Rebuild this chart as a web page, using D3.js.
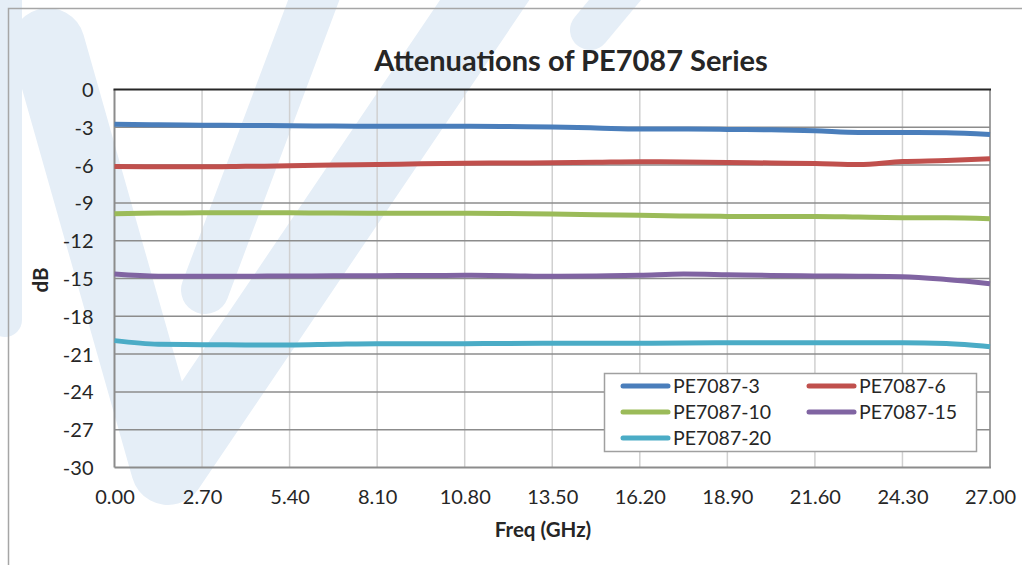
<!DOCTYPE html>
<html><head><meta charset="utf-8">
<script src="https://cdn.jsdelivr.net/npm/d3@7"></script>
<style>
html,body{margin:0;padding:0;background:#fff;}
svg{display:block;}
text{font-family:Lato,"Open Sans",sans-serif;fill:#262626;}
</style></head>
<body>
<svg id="chart" width="1022" height="565"></svg>
<script>
const freq = [0,1.35,2.7,4.05,5.4,6.75,8.1,9.45,10.8,12.15,13.5,14.85,16.2,17.55,18.9,20.25,21.6,22.95,24.3,25.65,27];
const seriesNames = ["PE7087-3","PE7087-6","PE7087-10","PE7087-15","PE7087-20"];
const pe3  = [-2.75,-2.80,-2.83,-2.85,-2.88,-2.90,-2.91,-2.91,-2.91,-2.94,-2.97,-3.05,-3.14,-3.14,-3.17,-3.20,-3.28,-3.41,-3.41,-3.43,-3.57];
const pe6  = [-6.12,-6.14,-6.14,-6.10,-6.06,-6.00,-5.95,-5.90,-5.85,-5.83,-5.82,-5.78,-5.74,-5.75,-5.79,-5.83,-5.87,-5.96,-5.72,-5.64,-5.50];
const pe10 = [-9.86,-9.80,-9.79,-9.79,-9.79,-9.80,-9.82,-9.82,-9.82,-9.85,-9.88,-9.94,-9.99,-10.04,-10.07,-10.07,-10.07,-10.12,-10.17,-10.18,-10.26];
const pe15 = [-14.65,-14.82,-14.83,-14.82,-14.80,-14.79,-14.78,-14.76,-14.75,-14.78,-14.83,-14.80,-14.75,-14.65,-14.70,-14.76,-14.80,-14.82,-14.86,-15.08,-15.41];
const pe20 = [-19.93,-20.22,-20.25,-20.27,-20.28,-20.22,-20.17,-20.17,-20.17,-20.16,-20.14,-20.14,-20.14,-20.12,-20.10,-20.10,-20.10,-20.10,-20.10,-20.15,-20.41];
const seriesValues = [pe3,pe6,pe10,pe15,pe20];
const colors = ["#4a7ebb","#c0504d","#9bbb59","#8064a2","#4bacc6"];
const xTicks = [0,2.7,5.4,8.1,10.8,13.5,16.2,18.9,21.6,24.3,27];
const yTicks = [0,-3,-6,-9,-12,-15,-18,-21,-24,-27,-30];
const title = "Attenuations of PE7087 Series";
const xTitle = "Freq (GHz)";
const yTitle = "dB";

const svg = d3.select("#chart");
const L = 114.5, R = 990, T = 89.5, B = 467.5;

// faint logo watermark
const wm = svg.append("g").attr("fill","none").attr("stroke","#e5eef7").attr("stroke-linejoin","round").attr("stroke-linecap","round");
wm.append("path").attr("d","M48,45 L168,468 L505,-30").attr("stroke-width",74);
wm.append("path").attr("d","M325,-30 L205,290").attr("stroke-width",48);
wm.append("path").attr("d","M5,-20 L5,320").attr("stroke-width",34);
wm.append("path").attr("d","M640,-30 L590,30").attr("stroke-width",40);

// outer border
svg.append("rect").attr("x",8.5).attr("y",8.5).attr("width",1100).attr("height",1000)
  .attr("fill","none").attr("stroke","#a6a6a6").attr("stroke-width",1.5);

const x = d3.scaleLinear().domain([0,27]).range([L,R]);
const y = d3.scaleLinear().domain([-30,0]).range([B,T]);

// grid
const g = svg.append("g");
g.selectAll("line.vg").data(xTicks.slice(1)).join("line").attr("class","vg")
  .attr("x1",d=>x(d)).attr("x2",d=>x(d)).attr("y1",T).attr("y2",B)
  .attr("stroke","#d0d0d0").attr("stroke-width",1.5);
g.selectAll("line.hg").data(yTicks.slice(1,-1)).join("line").attr("class","hg")
  .attr("x1",L).attr("x2",R).attr("y1",d=>y(d)).attr("y2",d=>y(d))
  .attr("stroke","#8c8c8c").attr("stroke-width",1.5);
g.append("line").attr("x1",R).attr("x2",R).attr("y1",T).attr("y2",B).attr("stroke","#8c8c8c").attr("stroke-width",1.5);
g.append("line").attr("x1",L).attr("x2",L).attr("y1",T).attr("y2",B).attr("stroke","#8c8c8c").attr("stroke-width",2);
g.append("line").attr("x1",L).attr("x2",R+1).attr("y1",B).attr("y2",B).attr("stroke","#8c8c8c").attr("stroke-width",2);
g.append("line").attr("x1",L-1).attr("x2",R+1).attr("y1",T).attr("y2",T).attr("stroke","#262626").attr("stroke-width",2);

// tick labels via d3 axes
const yAxis = d3.axisLeft(y).tickValues(yTicks).tickFormat(d=>String(d)).tickSize(0).tickPadding(21);
const ya = svg.append("g").attr("transform",`translate(${L},0)`).call(yAxis);
ya.select(".domain").remove();
ya.selectAll("text").style("font-family","Lato").style("font-size","20px").attr("fill","#262626").attr("dy","0.35em");

const xAxis = d3.axisBottom(x).tickValues(xTicks).tickFormat(d=>d.toFixed(2)).tickSize(0).tickPadding(22);
const xa = svg.append("g").attr("transform",`translate(0,${B})`).call(xAxis);
xa.select(".domain").remove();
xa.selectAll("text").style("font-family","Lato").style("font-size","20px").attr("fill","#262626");

// series
const line = d3.line().x((d,i)=>x(freq[i])).y(d=>y(d)).curve(d3.curveMonotoneX);
svg.append("g").selectAll("path").data(seriesValues).join("path")
  .attr("d",line).attr("fill","none").attr("stroke",(d,i)=>colors[i])
  .attr("stroke-width",5).attr("stroke-linejoin","round");

// titles
svg.append("text").attr("x",571).attr("y",71).attr("text-anchor","middle")
  .style("font-size","29px").style("font-weight","bold").text(title);
svg.append("text").attr("x",543).attr("y",537).attr("text-anchor","middle")
  .style("font-size","20.5px").style("font-weight","bold").text(xTitle);
svg.append("text").attr("transform","translate(48,280) rotate(-90)").attr("text-anchor","middle")
  .style("font-size","20.5px").style("font-weight","bold").text(yTitle);

// legend
const lg = svg.append("g");
lg.append("rect").attr("x",604.5).attr("y",373.5).attr("width",372).attr("height",78)
  .attr("fill","#fff").attr("stroke","#a0a0a0").attr("stroke-width",1.5);
const legPos = [[623,386],[809,386],[623,412],[809,412],[623,438]];
seriesNames.forEach((n,i)=>{
  const [lx,ly] = legPos[i];
  lg.append("line").attr("x1",lx).attr("x2",lx+45).attr("y1",ly).attr("y2",ly)
    .attr("stroke",colors[i]).attr("stroke-width",5).attr("stroke-linecap","round");
  lg.append("text").attr("x",lx+50).attr("y",ly).attr("dy","0.36em")
    .style("font-size","19.5px").text(n);
});
</script>
</body></html>
